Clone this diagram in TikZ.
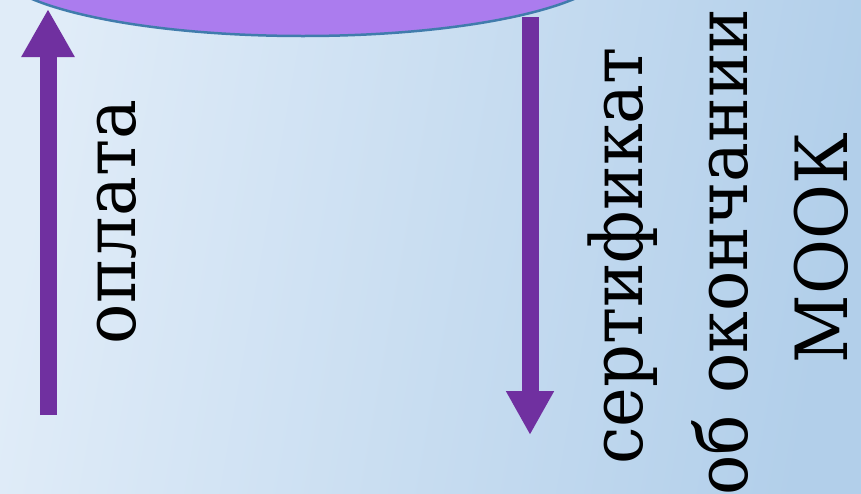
\documentclass[tikz,border=0pt]{standalone}
\usepackage{fontspec}
\setmainfont{DejaVu Serif}[FakeStretch=0.93]
\usetikzlibrary{arrows.meta,shapes.geometric}
\definecolor{bgleft}{RGB}{224,236,248}
\definecolor{bgright}{RGB}{178,207,234}
\definecolor{ellfill}{RGB}{171,124,238}
\definecolor{ellline}{RGB}{64,124,172}
\definecolor{arrowpurple}{RGB}{112,48,160}
\tikzset{
  flowarrow/.style={draw=arrowpurple, line width=17pt},
  vlabel/.style={rotate=90, anchor=base, inner sep=0pt, font=\rmfamily\fontsize{72}{100}\selectfont, text=black}
}
\begin{document}
\begin{tikzpicture}[x=1pt,y=-1pt]
  \useasboundingbox (0,0) rectangle (861,493);
  \shade[left color=bgleft, right color=bgright, shading angle=80] (0,0) rectangle (861,493);
  \node[draw=ellline, line width=2.5pt, fill=ellfill, ellipse, minimum width=620pt, minimum height=144pt, inner sep=0pt] (ell) at (303,-36) {};
  \coordinate (payS) at (48,415);
  \coordinate (payE) at (48,9);
  \coordinate (certS) at (530,17);
  \coordinate (certE) at (530,435);
  \draw[flowarrow, -{Triangle[width=50pt,length=48pt]}] (payS) -- (payE);
  \draw[flowarrow, -{Triangle[width=45pt,length=44pt]}] (certS) -- (certE);
  \node[vlabel] (pay) at (135,222) {оплата};
  \node[vlabel] (cert1) at (642,256) {сертификат};
  \node[vlabel] (cert2) at (747,252) {об окончании};
  \node[vlabel] (cert3) at (847,248) {МООК};
\end{tikzpicture}
\end{document}
